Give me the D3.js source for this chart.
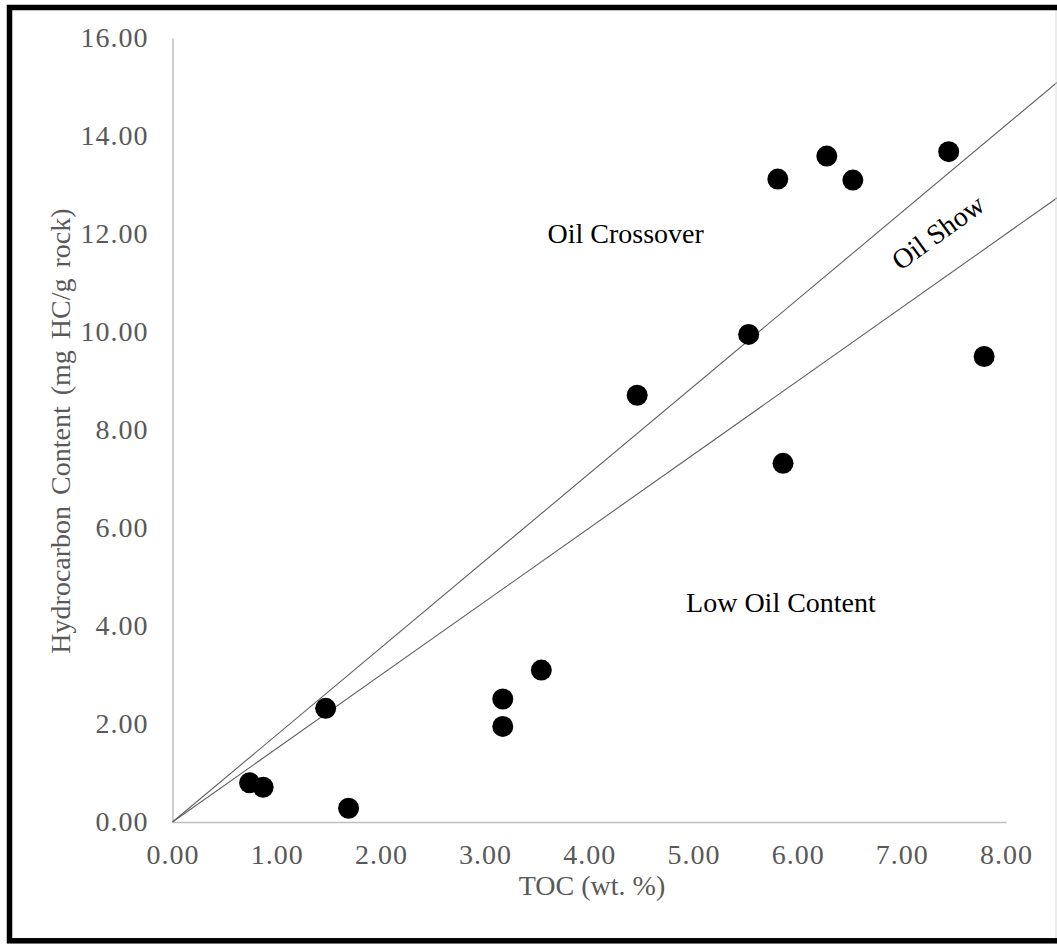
<!DOCTYPE html>
<html>
<head>
<meta charset="utf-8">
<script src="https://cdn.jsdelivr.net/npm/d3@7"></script>
<style>
  html, body { margin: 0; padding: 0; background: #fff; }
  svg { display: block; }
</style>
</head>
<body>
<svg id="chart" width="1057" height="944"></svg>
<script>
// ---- Data ----
const tocValues = [0.74, 0.87, 1.47, 1.69, 3.17, 3.17, 3.54, 4.46, 5.53, 5.81, 6.28, 6.53, 7.45, 7.79, 5.86];
const hcValues  = [0.80, 0.71, 2.32, 0.28, 2.51, 1.95, 3.10, 8.71, 9.95, 13.12, 13.59, 13.10, 13.68, 9.50, 7.32];
const xTicks = [0, 1, 2, 3, 4, 5, 6, 7, 8];
const yTicks = [0, 2, 4, 6, 8, 10, 12, 14, 16];
// Boundary lines through origin: [x0,y0] -> [x1,y1]
const crossoverLine = [[0, 0], [9, 16]];
const showLine = [[0, 0], [9, 13.5]];
const regionLabels = [
  { text: "Oil Crossover", x: 4.35, y: 11.82 },
  { text: "Low Oil Content", x: 5.84, y: 4.29 }
];
const showLabel = { text: "Oil Show", x: 7.40, y: 11.88, angle: -36 };
const xTitle = "TOC (wt. %)";
const yTitle = "Hydrocarbon Content (mg HC/g rock)";

// ---- Layout ----
const svg = d3.select("#chart");
const W = 1057, H = 944;
const x = d3.scaleLinear().domain([0, 8]).range([172.5, 1006]);
const y = d3.scaleLinear().domain([0, 16]).range([822, 38]);
const font = "'Liberation Serif', 'Times New Roman', serif";
const gray = "#595959";

svg.append("rect").attr("width", W).attr("height", H).attr("fill", "#fff");

// Axes (lines only, no tick marks)
const xAxis = d3.axisBottom(x).tickValues(xTicks).tickFormat(d3.format(".2f")).tickSize(0).tickPadding(22);
const yAxis = d3.axisLeft(y).tickValues(yTicks).tickFormat(d3.format(".2f")).tickSize(0).tickPadding(24);

const gx = svg.append("g").attr("transform", `translate(0,${y(0)})`).call(xAxis);
const gy = svg.append("g").attr("transform", `translate(${x(0)},0)`).call(yAxis);
[gx, gy].forEach(g => {
  g.select(".domain").attr("stroke", "#bfbfbf").attr("stroke-width", 1.5);
  g.selectAll("text").attr("font-family", font).attr("font-size", 28).attr("fill", gray)
    .attr("letter-spacing", 1);
});

// Boundary lines
const lineGen = d3.line().x(d => x(d[0])).y(d => y(d[1]));
[crossoverLine, showLine].forEach(l => {
  svg.append("path").attr("d", lineGen(l)).attr("fill", "none")
    .attr("stroke", "#606060").attr("stroke-width", 1.1);
});

// Points
svg.append("g").selectAll("circle").data(tocValues).join("circle")
  .attr("cx", d => x(d))
  .attr("cy", (d, i) => y(hcValues[i]))
  .attr("r", 10.5)
  .attr("fill", "#000");

// Region labels
regionLabels.forEach(r => {
  svg.append("text").attr("x", x(r.x)).attr("y", y(r.y))
    .attr("text-anchor", "middle")
    .attr("font-family", font).attr("font-size", 28).attr("fill", "#000")
    .text(r.text);
});
svg.append("text")
  .attr("transform", `translate(${x(showLabel.x)},${y(showLabel.y)}) rotate(${showLabel.angle})`)
  .attr("text-anchor", "middle")
  .attr("font-family", font).attr("font-size", 28).attr("fill", "#000")
  .text(showLabel.text);

// Axis titles
svg.append("text").attr("x", 592).attr("y", 895)
  .attr("text-anchor", "middle")
  .attr("font-family", font).attr("font-size", 28).attr("fill", gray)
  .text(xTitle);
svg.append("text")
  .attr("transform", `translate(70,431) rotate(-90)`)
  .attr("text-anchor", "middle")
  .attr("font-family", font).attr("font-size", 28).attr("fill", gray)
  .attr("word-spacing", 4)
  .text(yTitle);

// Frame
svg.append("line").attr("x1", 1056).attr("x2", 1056).attr("y1", 10).attr("y2", 938)
  .attr("stroke", "#d9d9d9").attr("stroke-width", 1);
svg.append("rect").attr("x", 9.5).attr("y", 7.5).attr("width", 1200).attr("height", 933.3)
  .attr("fill", "none").attr("stroke", "#000").attr("stroke-width", 5.5);
</script>
</body>
</html>
